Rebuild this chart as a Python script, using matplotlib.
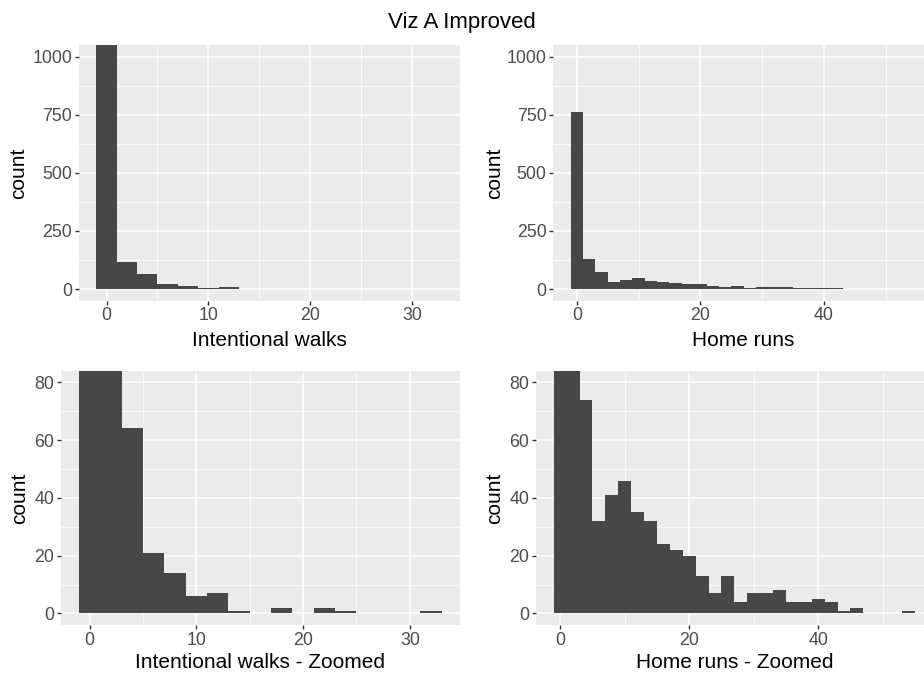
import matplotlib.pyplot as plt

# histogram bins (centres, width 2) and counts
walk_bins = [0, 2, 4, 6, 8, 10, 12, 14, 16, 18, 20, 22, 24, 26, 28, 30, 32]
walk_counts = [1062, 118, 64, 21, 14, 6, 7, 1, 0, 2, 0, 2, 1, 0, 0, 0, 1]

hr_bins = [0, 2, 4, 6, 8, 10, 12, 14, 16, 18, 20, 22, 24, 26,
           28, 30, 32, 34, 36, 38, 40, 42, 44, 46, 48, 50, 52, 54]
hr_counts = [763, 130, 74, 32, 41, 46, 35, 32, 24, 22, 20, 13, 7, 13,
             4, 7, 7, 8, 4, 4, 5, 4, 1, 2, 0, 0, 0, 1]

plt.rcParams['font.family'] = ['Liberation Sans', 'DejaVu Sans']

W, H = 924, 673
fig = plt.figure(figsize=(W / 100, H / 100), dpi=100)


def panel(box, bins, counts, xlabel, xticks, xminor, ylim, yticks, yminor,
          xlab_base, ylab_base):
    """ggplot-like histogram panel, box in pixels (left, top, right, bottom)"""
    l, t, r, b = box
    ax = fig.add_axes([l / W, 1 - b / H, (r - l) / W, (b - t) / H])
    ax.set_facecolor('#EBEBEB')
    for s in ax.spines.values():
        s.set_visible(False)
    for v in xminor:
        ax.axvline(v, color='white', lw=0.55, zorder=0)
    for v in yminor:
        ax.axhline(v, color='white', lw=0.55, zorder=0)
    for v in xticks:
        ax.axvline(v, color='white', lw=1.1, zorder=0)
    for v in yticks:
        ax.axhline(v, color='white', lw=1.1, zorder=0)
    ax.bar(bins, counts, width=2, color='#474747', zorder=2)
    lo, hi = bins[0] - 1, bins[-1] + 1
    pad = (hi - lo) * 0.05
    ax.set_xlim(lo - pad, hi + pad)
    ax.set_ylim(ylim[0] - (ylim[1] - ylim[0]) * 0.05, ylim[1] + (ylim[1] - ylim[0]) * 0.05)
    ax.set_xticks(xticks)
    ax.set_yticks(yticks)
    ax.tick_params(length=3.2, width=1, color='#333333', labelcolor='#4D4D4D',
                   labelsize=12.8, pad=1.6)
    ax.set_xlabel(xlabel, fontsize=15, va='baseline')
    ax.xaxis.set_label_coords((l + r) / 2 / W, 1 - xlab_base / H, transform=fig.transFigure)
    ax.set_ylabel('count', fontsize=15, va='baseline')
    ax.yaxis.set_label_coords(ylab_base / W, 1 - (t + b) / 2 / H, transform=fig.transFigure)
    return ax


panel((79, 45, 460, 300.7), walk_bins, walk_counts, 'Intentional walks',
      [0, 10, 20, 30], [5, 15, 25], (0, 1000), [0, 250, 500, 750, 1000],
      [125, 375, 625, 875], 346.5, 24)
panel((553.3, 45, 934, 300.7), hr_bins, hr_counts, 'Home runs',
      [0, 20, 40], [10, 30, 50], (0, 1000), [0, 250, 500, 750, 1000],
      [125, 375, 625, 875], 346.5, 500)
panel((60.7, 370.7, 460, 625), walk_bins, walk_counts, 'Intentional walks - Zoomed',
      [0, 10, 20, 30], [5, 15, 25], (0, 80), [0, 20, 40, 60, 80],
      [10, 30, 50, 70], 668.5, 25)
panel((535.7, 370.7, 933, 625), hr_bins, hr_counts, 'Home runs - Zoomed',
      [0, 20, 40], [10, 30, 50], (0, 80), [0, 20, 40, 60, 80],
      [10, 30, 50, 70], 668.5, 500)

fig.text(0.5, 1 - 28.3 / H, 'Viz A Improved', ha='center', va='baseline', fontsize=16)

fig.savefig('out.png', dpi=100)
